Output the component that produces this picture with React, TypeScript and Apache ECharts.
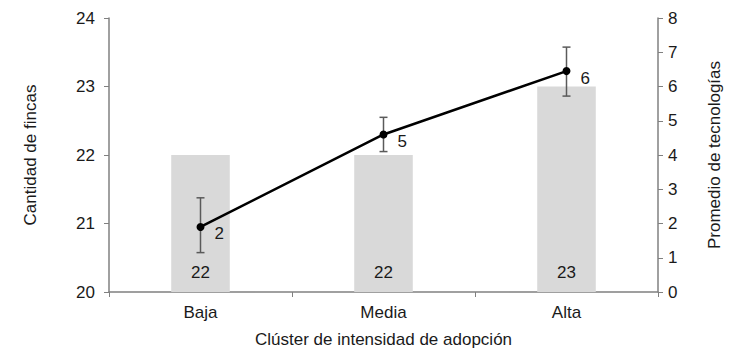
import React, { useEffect, useRef } from "react";
import * as echarts from "echarts";

const categories = ["Baja", "Media", "Alta"];
const fincas = [22, 22, 23];
const tecnologias = [1.9, 4.6, 6.45];
const errLow = [1.15, 4.1, 5.72];
const errHigh = [2.75, 5.1, 7.15];
const lineLabels = ["2", "5", "6"];
const leftTicks = { min: 20, max: 24, interval: 1 };
const rightTicks = { min: 0, max: 8, interval: 1 };

const FONT = "Liberation Sans, Arial, sans-serif";
const TXT = "#1a1a1a";
const AX = "#808080";
const FS = 17;

export default function App() {
  const ref = useRef<HTMLDivElement>(null);
  useEffect(() => {
    if (!ref.current) return;
    const chart = echarts.init(ref.current, null, { renderer: "svg" });
    const errData = categories.map((_, i) => [i, errLow[i], errHigh[i]]);
    chart.setOption({
      animation: false,
      textStyle: { fontFamily: FONT },
      grid: { left: 109, right: 92, top: 18, bottom: 70 },
      xAxis: {
        type: "category",
        data: categories,
        name: "Clúster de intensidad de adopción",
        nameLocation: "middle",
        nameGap: 39,
        nameTextStyle: { fontSize: FS, color: TXT, fontFamily: FONT },
        axisLine: { lineStyle: { color: AX, width: 1.5 } },
        axisTick: { show: true, length: 5, lineStyle: { color: AX } },
        axisLabel: { fontSize: FS, color: TXT, margin: 12, fontFamily: FONT },
      },
      yAxis: [
        {
          type: "value",
          min: leftTicks.min,
          max: leftTicks.max,
          interval: leftTicks.interval,
          name: "Cantidad de fincas",
          nameLocation: "middle",
          nameRotate: 90,
          nameGap: 70,
          nameTextStyle: { fontSize: FS, color: TXT, fontFamily: FONT },
          axisLine: { show: true, lineStyle: { color: AX, width: 1.5 } },
          axisTick: { show: true, length: 5, lineStyle: { color: AX } },
          axisLabel: { fontSize: FS, color: TXT, margin: 14, fontFamily: FONT },
          splitLine: { show: false },
        },
        {
          type: "value",
          position: "right",
          min: rightTicks.min,
          max: rightTicks.max,
          interval: rightTicks.interval,
          name: "Promedio de tecnologías",
          nameLocation: "middle",
          nameRotate: 90,
          nameGap: 48,
          nameTextStyle: { fontSize: FS, color: TXT, fontFamily: FONT },
          axisLine: { show: true, lineStyle: { color: AX, width: 1.5 } },
          axisTick: { show: true, length: 5, lineStyle: { color: AX } },
          axisLabel: { fontSize: FS, color: TXT, margin: 10, fontFamily: FONT },
          splitLine: { show: false },
        },
      ],
      series: [
        {
          type: "bar",
          yAxisIndex: 0,
          data: fincas,
          barWidth: "32%",
          itemStyle: { color: "#d9d9d9" },
          label: {
            show: true,
            position: "insideBottom",
            distance: 11,
            fontSize: FS,
            color: TXT,
            fontFamily: FONT,
          },
          z: 1,
        },
        {
          type: "custom",
          yAxisIndex: 1,
          data: errData,
          z: 3,
          renderItem: (params: any, api: any) => {
            const x = api.value(0);
            const lo = api.coord([x, api.value(1)]);
            const hi = api.coord([x, api.value(2)]);
            const hw = 4;
            const style = { stroke: "#5a5a5a", lineWidth: 1.5 };
            return {
              type: "group",
              children: [
                { type: "line", shape: { x1: lo[0], y1: lo[1], x2: hi[0], y2: hi[1] }, style },
                { type: "line", shape: { x1: lo[0] - hw, y1: lo[1], x2: lo[0] + hw, y2: lo[1] }, style },
                { type: "line", shape: { x1: hi[0] - hw, y1: hi[1], x2: hi[0] + hw, y2: hi[1] }, style },
              ],
            };
          },
        },
        {
          type: "line",
          yAxisIndex: 1,
          data: tecnologias,
          symbol: "circle",
          symbolSize: 8,
          lineStyle: { color: "#000", width: 2.5 },
          itemStyle: { color: "#000" },
          z: 4,
          label: {
            show: true,
            position: "right",
            offset: [5, 7],
            fontSize: FS,
            color: TXT,
            fontFamily: FONT,
            formatter: (p: any) => lineLabels[p.dataIndex],
          },
        },
      ],
    });
    return () => chart.dispose();
  }, []);
  return <div ref={ref} style={{ width: 750, height: 362, margin: -8 }} />;
}
